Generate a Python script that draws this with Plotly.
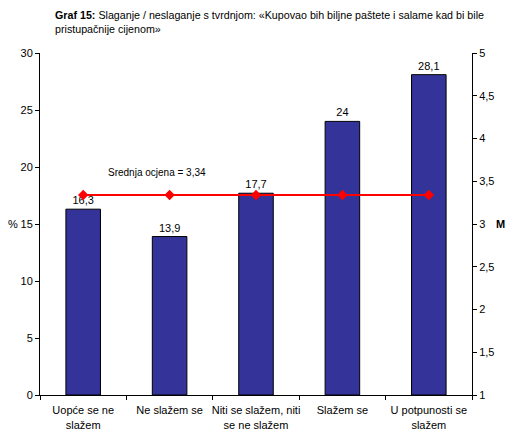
import plotly.graph_objects as go

categories = [
    "Uopće se ne<br>slažem",
    "Ne slažem se",
    "Niti se slažem, niti<br>se ne slažem",
    "Slažem se",
    "U potpunosti se<br>slažem",
]
percent = [16.3, 13.9, 17.7, 24, 28.1]
percent_labels = ["16,3", "13,9", "17,7", "24", "28,1"]
mean_score = [3.34, 3.34, 3.34, 3.34, 3.34]

font = "Liberation Sans, Arial, sans-serif"

fig = go.Figure()
fig.add_trace(
    go.Bar(
        x=categories,
        y=percent,
        text=percent_labels,
        textposition="outside",
        textfont=dict(size=11, color="black"),
        cliponaxis=False,
        marker=dict(color="#333399", line=dict(color="black", width=1)),
        showlegend=False,
    )
)
fig.add_trace(
    go.Scatter(
        x=categories,
        y=mean_score,
        yaxis="y2",
        mode="lines+markers",
        line=dict(color="#FF0000", width=2),
        marker=dict(symbol="diamond", size=8, color="#FF0000"),
        showlegend=False,
    )
)

fig.update_layout(
    width=510,
    height=436,
    margin=dict(l=40, r=38, t=53, b=41),
    paper_bgcolor="white",
    plot_bgcolor="white",
    separators=",.",
    bargap=0.6,
    font=dict(family=font, size=11, color="black"),
    xaxis=dict(
        type="category",
        showline=True,
        linecolor="black",
        ticks="outside",
        tickson="boundaries",
        ticklen=4,
        tickcolor="black",
        tickangle=0,
        ticklabelstandoff=5,
        automargin=False,
        tickfont=dict(size=11),
    ),
    yaxis=dict(
        range=[0, 30],
        dtick=5,
        showline=True,
        linecolor="black",
        ticks="outside",
        ticklen=4,
        tickcolor="black",
        showgrid=False,
        zeroline=False,
        automargin=False,
        tickfont=dict(size=11),
    ),
    yaxis2=dict(
        range=[1, 5],
        dtick=0.5,
        overlaying="y",
        side="right",
        showline=True,
        linecolor="black",
        ticks="outside",
        ticklen=4,
        tickcolor="black",
        showgrid=False,
        zeroline=False,
        automargin=False,
        tickfont=dict(size=11),
    ),
    annotations=[
        dict(
            text="<b>Graf 15:</b> Slaganje / neslaganje s tvrdnjom: «Kupovao bih biljne paštete i salame kad bi bile<br>pristupačnije cijenom»",
            xref="paper", yref="paper", x=0.03, y=1.0, yshift=46,
            xanchor="left", yanchor="top", align="left",
            showarrow=False, font=dict(size=10.7),
        ),
        dict(
            text="Srednja ocjena = 3,34",
            xref="x", yref="y", x=0.85, y=19.5,
            xanchor="center", showarrow=False, font=dict(size=10),
        ),
        dict(
            text="%", xref="paper", yref="paper", x=0, y=0.5,
            xshift=-27, xanchor="center", showarrow=False, font=dict(size=11),
        ),
        dict(
            text="<b>M</b>", xref="paper", yref="paper", x=1, y=0.5,
            xshift=28, xanchor="center", showarrow=False, font=dict(size=11),
        ),
    ],
)

fig.write_html(
    "out.html",
    config={"displayModeBar": False},
    post_script="document.body.style.margin='0';",
)
